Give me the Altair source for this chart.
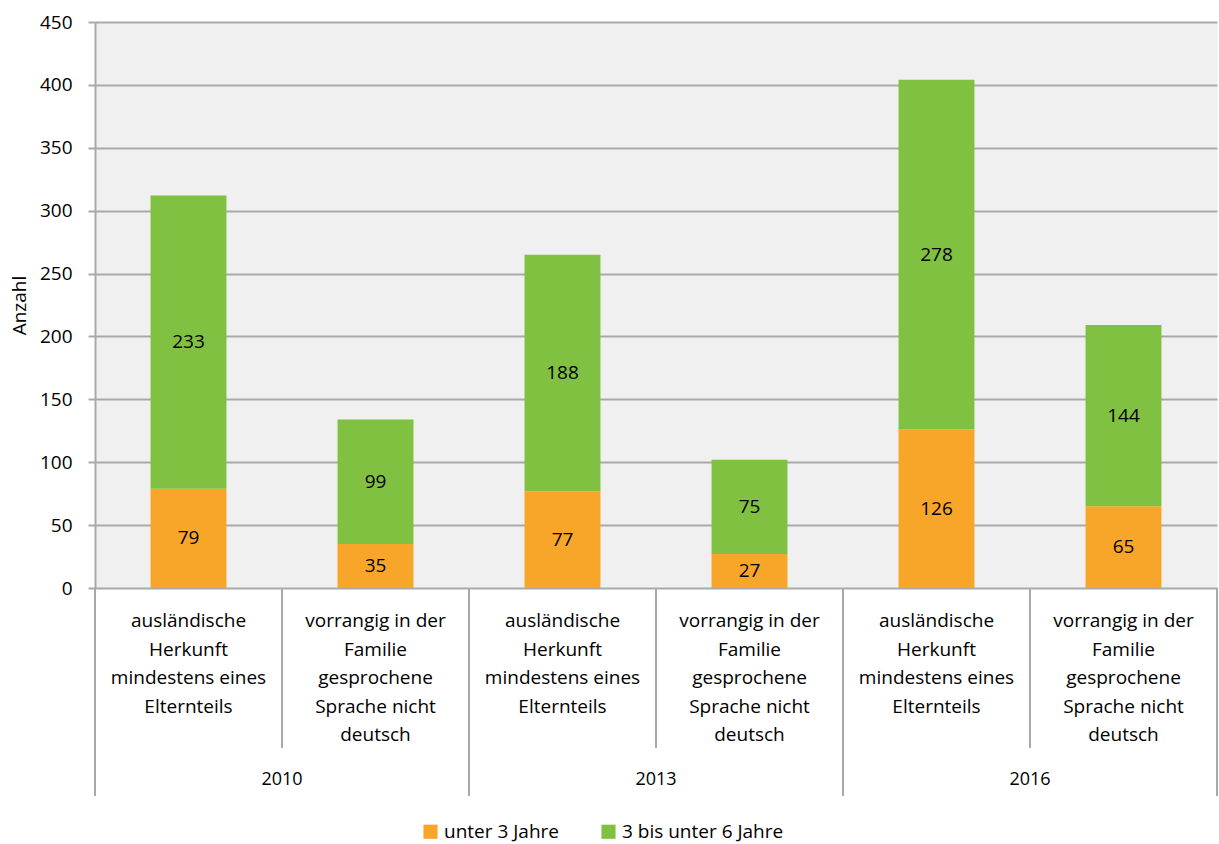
import altair as alt
import pandas as pd

# ---- data ----
years = ["2010", "2010", "2013", "2013", "2016", "2016"]
groups = ["A", "B", "A", "B", "A", "B"]
under3 = [79, 35, 77, 27, 126, 65]
from3to6 = [233, 99, 188, 75, 278, 144]
label_a = "ausländische\nHerkunft\nmindestens eines\nElternteils"
label_b = "vorrangig in der\nFamilie\ngesprochene\nSprache nicht\ndeutsch"
series = ["unter 3 Jahre", "3 bis unter 6 Jahre"]
colors = ["#F8A62A", "#80C141"]
y_ticks = [0, 50, 100, 150, 200, 250, 300, 350, 400, 450]
year_list = ["2010", "2013", "2016"]

cats = [f"{y}-{g}" for y, g in zip(years, groups)]
rows = []
for i, c in enumerate(cats):
    rows.append(dict(cat=c, series=series[0], order=0, value=under3[i]))
    rows.append(dict(cat=c, series=series[1], order=1, value=from3to6[i]))
df = pd.DataFrame(rows)

FONT = "Open Sans"
GRID = "#A9A9A9"
W, H = 1122, 566

bar_scale = alt.Scale(domain=cats, paddingInner=0.594, paddingOuter=0.297)
sep_scale = alt.Scale(domain=cats, paddingInner=0, paddingOuter=0)
year_scale = alt.Scale(domain=year_list, paddingInner=0, paddingOuter=0)
y_scale = alt.Scale(domain=[0, 450], nice=False)
y_axis = alt.Axis(values=y_ticks, grid=True, gridColor=GRID, gridWidth=2,
                  domainColor=GRID, domainWidth=2, tickColor=GRID, tickWidth=2,
                  tickSize=7, labelFontSize=19, labelFont=FONT, labelColor="black",
                  labelPadding=16, titleFont=FONT, titleFontSize=19,
                  titleFontWeight="normal", titleColor="black", titlePadding=10)

bars = alt.Chart(df).mark_bar().encode(
    x=alt.X("cat:N", scale=bar_scale, axis=None),
    y=alt.Y("value:Q", stack="zero", scale=y_scale, axis=y_axis, title="Anzahl"),
    color=alt.Color("series:N", scale=alt.Scale(domain=series, range=colors),
                    legend=alt.Legend(orient="none", legendX=326, legendY=800,
                                      direction="horizontal", title=None,
                                      symbolType="square", symbolSize=200,
                                      symbolStrokeWidth=0, labelFont=FONT,
                                      labelFontSize=19, labelColor="black",
                                      labelLimit=400,
                                      columnPadding=40, labelOffset=4)),
    order=alt.Order("order:Q"),
)

values = alt.Chart(df).transform_stack(
    stack="value", groupby=["cat"], as_=["v0", "v1"],
    sort=[alt.SortField("order", order="ascending")]
).transform_calculate(mid="(datum.v0 + datum.v1) / 2").mark_text(
    font=FONT, fontSize=19, color="black", baseline="middle"
).encode(
    x=alt.X("cat:N", scale=bar_scale, axis=None),
    y=alt.Y("mid:Q", scale=y_scale, axis=y_axis, title="Anzahl"),
    text=alt.Text("value:Q"),
)

cat_df = pd.DataFrame({"cat": cats, "label": [label_a, label_b] * 3})
cat_labels = alt.Chart(cat_df).mark_text(
    font=FONT, fontSize=19, color="black", baseline="top", align="center",
    lineBreak="\n", lineHeight=28.5
).encode(
    x=alt.X("cat:N", scale=bar_scale, axis=None),
    y=alt.value(H + 24),
    text="label:N",
)

long_df = pd.DataFrame({"cat": cats[0::2]})
long_rules = alt.Chart(long_df).mark_rule(color=GRID, strokeWidth=2).encode(
    x=alt.X("cat:N", scale=sep_scale, axis=None, bandPosition=0),
    y=alt.value(H), y2=alt.value(H + 208),
)
end_df = pd.DataFrame({"cat": [cats[-1]]})
end_rule = alt.Chart(end_df).mark_rule(color=GRID, strokeWidth=2).encode(
    x=alt.X("cat:N", scale=sep_scale, axis=None, bandPosition=1),
    y=alt.value(H), y2=alt.value(H + 208),
)
short_df = pd.DataFrame({"cat": cats[1::2]})
short_rules = alt.Chart(short_df).mark_rule(color=GRID, strokeWidth=2).encode(
    x=alt.X("cat:N", scale=sep_scale, axis=None, bandPosition=0),
    y=alt.value(H), y2=alt.value(H + 160),
)
year_df = pd.DataFrame({"year": year_list})
year_labels = alt.Chart(year_df).mark_text(
    font=FONT, fontSize=18, color="black", baseline="middle", align="center"
).encode(
    x=alt.X("year:N", scale=year_scale, axis=None),
    y=alt.value(H + 192),
    text="year:N",
)

chart = alt.layer(
    bars, values, cat_labels, long_rules, end_rule, short_rules, year_labels
).resolve_scale(x="independent").properties(
    width=W, height=H,
    autosize=alt.AutoSizeParams(type="none"),
    padding={"left": 95, "top": 22, "right": 2, "bottom": 256},
    background="white",
).configure_view(fill="#F0F0F0", stroke="transparent")

chart.save("out.html", embed_options={"renderer": "svg", "actions": False})
